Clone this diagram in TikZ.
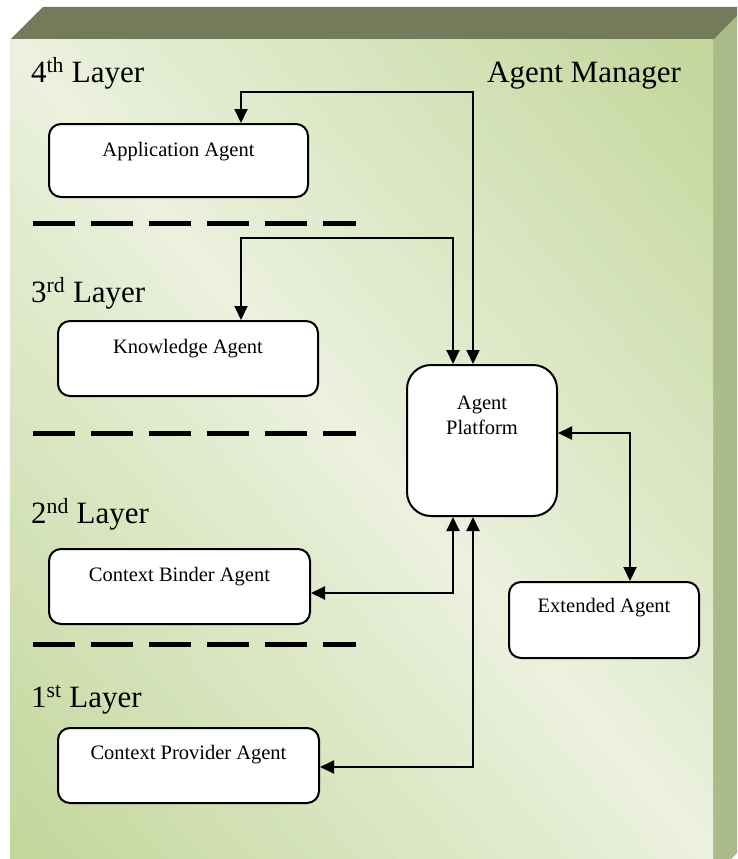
\documentclass[tikz,border=0pt]{standalone}
\usepackage{fontspec}
\setmainfont{Liberation Serif}
\usetikzlibrary{arrows.meta}
\definecolor{gdark}{HTML}{C3D69B}
\definecolor{glight}{HTML}{EBF1DE}
\definecolor{gtop}{HTML}{737B5B}
\definecolor{gside}{HTML}{AABB89}
\tikzset{
  agentbox/.style={draw=black, line width=2pt, fill=white, rounded corners=12pt, inner sep=0pt},
  boxtext/.style={font=\fontsize{20.5}{25}\selectfont, inner sep=0pt, align=center},
  layertext/.style={font=\fontsize{31}{37}\selectfont, inner sep=0pt, anchor=base west},
  biarrow/.style={line width=2pt, {Triangle[length=14pt,width=13pt]}-{Triangle[length=14pt,width=13pt]}},
  layerline/.style={line width=5pt, dash pattern=on 42pt off 16pt},
}
\begin{document}
\begin{tikzpicture}[x=1pt,y=-1pt]
\useasboundingbox (0,0) rectangle (737,859);
\begin{scope}
\clip (0,0) rectangle (737,859);
% cube faces
\fill[gtop] (10,40) -- (43,7) -- (760,7) -- (713,40) -- cycle;
\fill[gside] (713,40) -- (760,-7) -- (760,830) -- (713,877) -- cycle;
\clip (10,40) rectangle (713,877);
\begin{scope}[shift={(361.5,449.5)}, rotate=40.6]
  \foreach \i in {0,...,79}{
    \pgfmathsetmacro{\sa}{-533.4+\i*13.335}
    \pgfmathsetmacro{\sb}{\sa+14.5}
    \pgfmathsetmacro{\mx}{min(100,abs(\sa+6.67)/533.4*100)}
    \fill[gdark!\mx!glight] (\sa,-800) rectangle (\sb,800);
  }
\end{scope}
\end{scope}

% labels
\node[layertext] (l4) at (31,82) {4\textsuperscript{th} Layer};
\node[layertext] (l3) at (31,302) {3\textsuperscript{rd} Layer};
\node[layertext] (l2) at (31,523) {2\textsuperscript{nd} Layer};
\node[layertext] (l1) at (31,707) {1\textsuperscript{st} Layer};
\node[layertext] (mgr) at (487,82) {Agent Manager};

% dashed separators
\draw[layerline] (33,223) -- (356,223);
\draw[layerline] (33,433) -- (356,433);
\draw[layerline] (33,644) -- (356,644);

% boxes
\node[agentbox, minimum width=259pt, minimum height=73pt] (app) at (178.5,160.5) {};
\node[boxtext] (appt) at (178.5,152) {Application Agent};
\node[agentbox, minimum width=260pt, minimum height=75pt] (know) at (188,358.5) {};
\node[boxtext] (knowt) at (188,349) {Knowledge Agent};
\node[agentbox, minimum width=261pt, minimum height=75pt] (bind) at (179.5,586.5) {};
\node[boxtext] (bindt) at (179.5,577) {Context Binder Agent};
\node[agentbox, minimum width=261pt, minimum height=75pt] (prov) at (188.5,765.5) {};
\node[boxtext] (provt) at (188.5,755) {Context Provider Agent};
\node[agentbox, rounded corners=24pt, minimum width=150pt, minimum height=151pt] (plat) at (482,440.5) {};
\node[boxtext] (platt) at (482,415.5) {Agent\\Platform};
\node[agentbox, minimum width=190pt, minimum height=76pt] (ext) at (604,620) {};
\node[boxtext] (extt) at (604,608) {Extended Agent};

% connectors
\draw[biarrow] (app.north -| 241,0) |- (473,92) -- (plat.north -| 473,0);
\draw[biarrow] (know.north -| 241,0) |- (453,238) -- (plat.north -| 453,0);
\draw[biarrow] (bind.east |- 0,593) -| (plat.south -| 453,0);
\draw[biarrow] (prov.east |- 0,767) -| (plat.south -| 473,0);
\draw[biarrow] (plat.east |- 0,433) -| (ext.north -| 630,0);
\end{tikzpicture}
\end{document}
